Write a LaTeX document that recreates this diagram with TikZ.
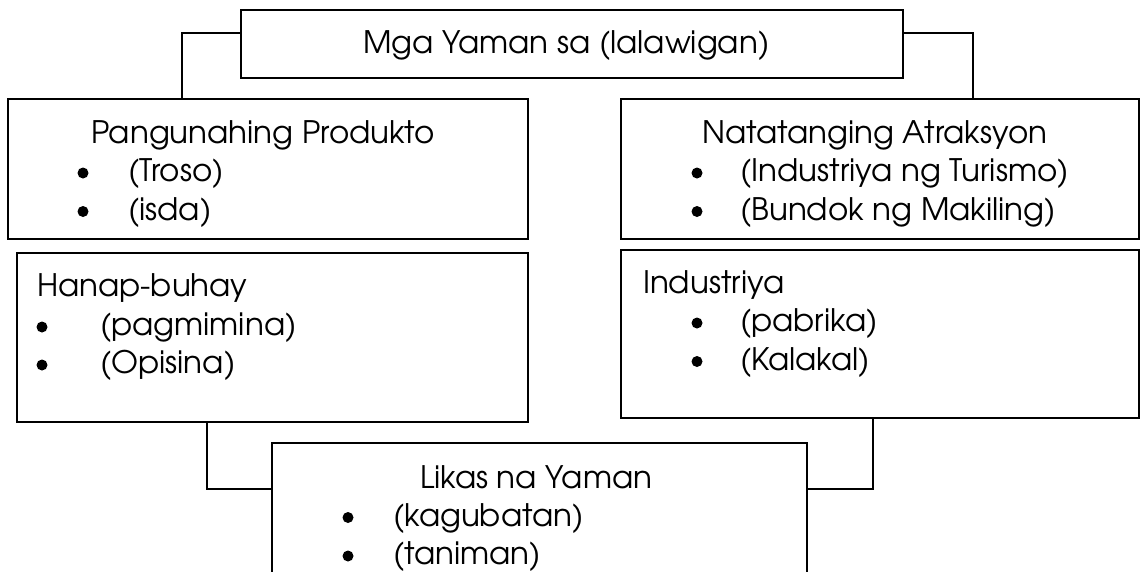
\documentclass[tikz,border=0pt]{standalone}
\usepackage{fontspec}
\setmainfont{texgyreadventor}[Extension=.otf, UprightFont=*-regular, BoldFont=*-bold]
\begin{document}
\begin{tikzpicture}[x=1pt,y=-1pt,
  box/.style={draw,line width=2pt,inner sep=0pt,outer sep=0pt,anchor=north west},
  lbl/.style={anchor=base west,inner sep=0pt,outer sep=0pt,font=\fontsize{31}{37}\selectfont},
  wire/.style={line width=1.8pt},
  bul/.style={fill=black}]
\useasboundingbox (0,0) rectangle (1140,571);
\clip (0,0) rectangle (1140,571);
\fill[white] (0,0) rectangle (1140,571);
% boxes
\node[box,minimum width=662pt,minimum height=68pt] (top) at (241,10) {};
\node[box,minimum width=520pt,minimum height=140pt] (pang) at (8,99) {};
\node[box,minimum width=518pt,minimum height=140pt] (nat) at (621,99) {};
\node[box,minimum width=511pt,minimum height=169pt] (hanap) at (17,253) {};
\node[box,minimum width=518pt,minimum height=168pt] (indu) at (621,250) {};
\node[box,minimum width=535pt,minimum height=220pt] (likas) at (272,443) {};
% texts
\node[lbl] (tTop) at (363,53) {Mga Yaman sa (lalawigan)};
\node[lbl] (tPang) at (91,143) {Pangunahing Produkto};
\node[lbl] (tPang1) at (128,181) {(Troso)};
\node[lbl] (tPang2) at (128,220) {(isda)};
\node[lbl] (tNat) at (702,143) {Natatanging Atraksyon};
\node[lbl] (tNat1) at (740,181) {(Industriya ng Turismo)};
\node[lbl] (tNat2) at (740,220) {(Bundok ng Makiling)};
\node[lbl] (tHan) at (37,296) {Hanap-buhay};
\node[lbl] (tHan1) at (100,335) {(pagmimina)};
\node[lbl] (tHan2) at (100,373) {(Opisina)};
\node[lbl] (tInd) at (643,293) {Industriya};
\node[lbl] (tInd1) at (740,331) {(pabrika)};
\node[lbl] (tInd2) at (740,370) {(Kalakal)};
\node[lbl] (tLik) at (420,488) {Likas na Yaman};
\node[lbl] (tLik1) at (393,526) {(kagubatan)};
\node[lbl] (tLik2) at (393,564) {(taniman)};
% bullets
\foreach \bx/\by in {83/173, 83/211.5, 697/173, 697/211.5, 42/327, 42/365, 697/323, 697/361.5, 348/517.5, 348/556}
  \fill[bul] (\bx,\by) circle (5.5);
% connectors
\coordinate (cTL) at (182,33);
\coordinate (cTR) at (973,33);
\coordinate (cBL) at (207,489);
\coordinate (cBR) at (873,489);
\draw[wire] (top.west |- cTL) -| (pang.north -| cTL);
\draw[wire] (top.east |- cTR) -| (nat.north -| cTR);
\draw[wire] (hanap.south -| cBL) |- (likas.west |- cBL);
\draw[wire] (indu.south -| cBR) |- (likas.east |- cBR);
\end{tikzpicture}
\end{document}
